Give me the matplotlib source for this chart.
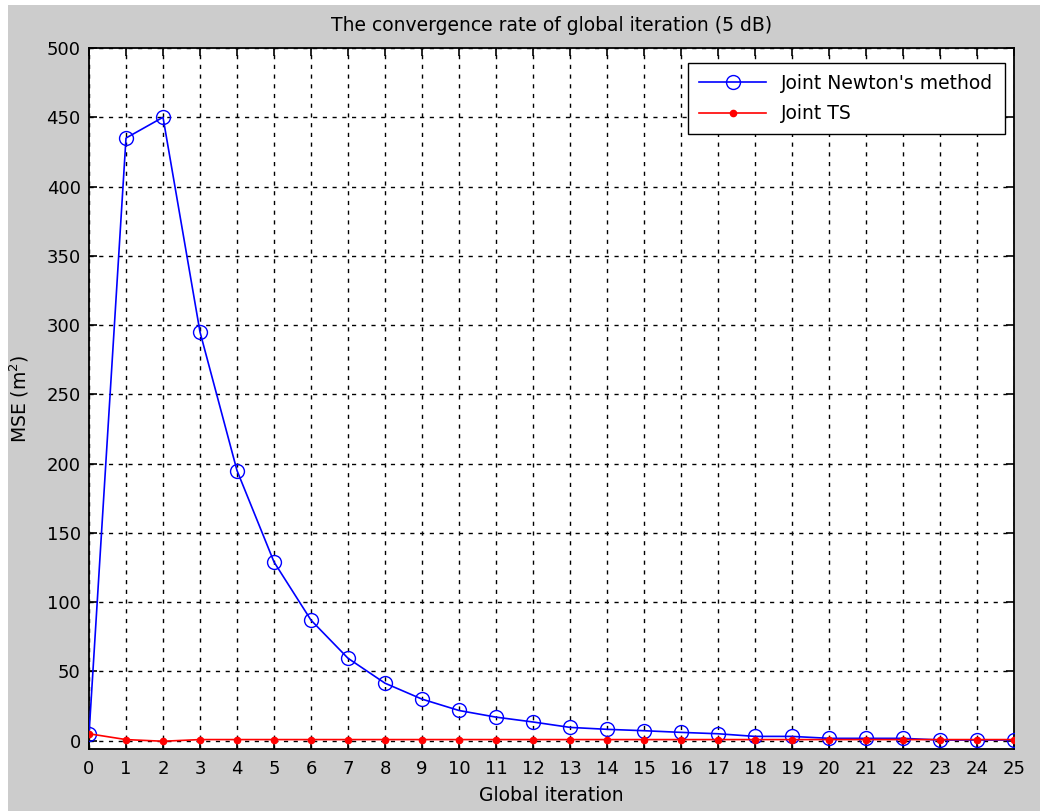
import numpy as np
import matplotlib
matplotlib.use('Agg')
import matplotlib.pyplot as plt
from matplotlib.patches import Rectangle

# values
iters = list(range(26))
mse_newton = [4.5, 435, 450, 295, 195, 129, 87, 59.5, 41.5, 30, 21.8, 17, 13.5,
              9.6, 8.2, 7.2, 6, 5, 3.1, 3.1, 1.7, 1.7, 1.7, 0.5, 0.5, 0.5]
mse_ts = [5, 0.8, -0.4, 0.8, 0.8, 0.8, 0.8, 0.8, 0.8, 0.8, 0.8, 0.8, 0.8,
          0.8, 0.8, 0.8, 0.8, 0.8, 0.8, 0.8, 0.8, 0.8, 0.8, 0.8, 0.8, 0.8]
yticks = list(range(0, 501, 50))

plt.rcParams['font.family'] = ['DejaVu Sans']
ft = 13.5
ft_tick = 13

fig = plt.figure(figsize=(10.4, 8.11), dpi=100, facecolor='white')
# grey window area, thin white strip on top and left like the screenshot
fig.patches.append(Rectangle((8/1040, 0), 1, 1 - 5/811, transform=fig.transFigure,
                             facecolor='#cccccc', edgecolor='none', zorder=-10))

ax = fig.add_axes([89/1040, 1 - 749/811, (1014 - 89)/1040, (749 - 48)/811])
ax.set_facecolor('white')

ax.plot(iters, mse_newton, color='blue', marker='o', markersize=10, markerfacecolor='none',
        markeredgecolor='blue', linewidth=1.2, label="Joint Newton's method", zorder=3)
ax.plot(iters, mse_ts, color='red', marker='.', markersize=9, linewidth=1.2,
        label='Joint TS', zorder=4)

ax.set_xlim(0, 25)
ax.set_ylim(-6, 500)
ax.set_xticks(iters)
ax.set_yticks(yticks)
ax.grid(True, color='black', linestyle=(0, (3, 4)), linewidth=1.0)
ax.set_axisbelow(True)
ax.tick_params(direction='in', length=6, width=1.2, labelsize=ft_tick, top=True, right=True)
ax.tick_params(axis='x', pad=8)
ax.tick_params(axis='y', pad=6)
for s in ax.spines.values():
    s.set_linewidth(1.3)

ax.set_title('The convergence rate of global iteration (5 dB)', fontsize=ft, pad=12)
ax.set_xlabel('Global iteration', fontsize=ft, labelpad=6)
ax.set_ylabel('MSE (m$^2$)', fontsize=ft, labelpad=11)

leg = ax.legend(loc='upper right', bbox_to_anchor=(0.990, 0.979), fontsize=ft,
                fancybox=False, framealpha=1, edgecolor='black', handlelength=3.6,
                borderaxespad=0, borderpad=0.6, labelspacing=0.6)
leg.get_frame().set_linewidth(1.0)

fig.savefig('out.png', dpi=100, facecolor=fig.get_facecolor())
